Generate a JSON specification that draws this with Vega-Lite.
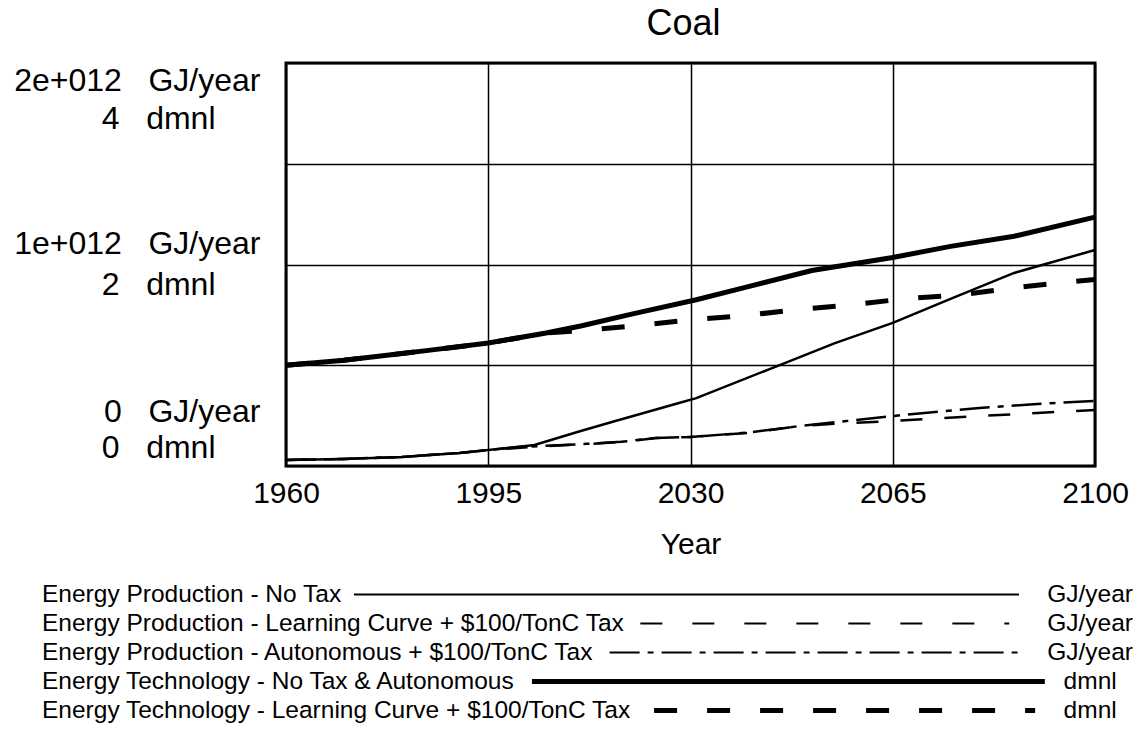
{
  "$schema": "https://vega.github.io/schema/vega-lite/v6.json",
  "background": "white",
  "padding": {"left": 12, "top": 4, "right": 0, "bottom": 0},
  "spacing": 19,
  "config": {"font": "Liberation Sans", "view": {"stroke": null}},
  "datasets": {
    "lines": [
      {"year": 1960, "series": "P1", "value": 3.0e10},
      {"year": 1970, "series": "P1", "value": 3.5e10},
      {"year": 1980, "series": "P1", "value": 4.5e10},
      {"year": 1990, "series": "P1", "value": 6.5e10},
      {"year": 1995, "series": "P1", "value": 7.9e10},
      {"year": 2003, "series": "P1", "value": 1.04e11},
      {"year": 2011, "series": "P1", "value": 1.74e11},
      {"year": 2017, "series": "P1", "value": 2.23e11},
      {"year": 2028, "series": "P1", "value": 3.13e11},
      {"year": 2031, "series": "P1", "value": 3.37e11},
      {"year": 2045, "series": "P1", "value": 4.96e11},
      {"year": 2055, "series": "P1", "value": 6.10e11},
      {"year": 2065, "series": "P1", "value": 7.10e11},
      {"year": 2075, "series": "P1", "value": 8.29e11},
      {"year": 2086, "series": "P1", "value": 9.58e11},
      {"year": 2100, "series": "P1", "value": 1.072e12},

      {"year": 1960, "series": "P2", "value": 3.0e10},
      {"year": 1970, "series": "P2", "value": 3.5e10},
      {"year": 1980, "series": "P2", "value": 4.5e10},
      {"year": 1990, "series": "P2", "value": 6.5e10},
      {"year": 1995, "series": "P2", "value": 7.9e10},
      {"year": 2000, "series": "P2", "value": 8.9e10},
      {"year": 2005, "series": "P2", "value": 9.9e10},
      {"year": 2012, "series": "P2", "value": 1.09e11},
      {"year": 2018, "series": "P2", "value": 1.19e11},
      {"year": 2024, "series": "P2", "value": 1.39e11},
      {"year": 2030, "series": "P2", "value": 1.44e11},
      {"year": 2040, "series": "P2", "value": 1.64e11},
      {"year": 2049, "series": "P2", "value": 1.99e11},
      {"year": 2057, "series": "P2", "value": 2.13e11},
      {"year": 2065, "series": "P2", "value": 2.23e11},
      {"year": 2080, "series": "P2", "value": 2.48e11},
      {"year": 2090, "series": "P2", "value": 2.63e11},
      {"year": 2100, "series": "P2", "value": 2.78e11},

      {"year": 1960, "series": "P3", "value": 3.0e10},
      {"year": 1970, "series": "P3", "value": 3.5e10},
      {"year": 1980, "series": "P3", "value": 4.5e10},
      {"year": 1990, "series": "P3", "value": 6.5e10},
      {"year": 1995, "series": "P3", "value": 7.9e10},
      {"year": 2000, "series": "P3", "value": 9.4e10},
      {"year": 2005, "series": "P3", "value": 1.0e11},
      {"year": 2012, "series": "P3", "value": 1.1e11},
      {"year": 2018, "series": "P3", "value": 1.2e11},
      {"year": 2024, "series": "P3", "value": 1.39e11},
      {"year": 2030, "series": "P3", "value": 1.44e11},
      {"year": 2040, "series": "P3", "value": 1.66e11},
      {"year": 2049, "series": "P3", "value": 1.99e11},
      {"year": 2057, "series": "P3", "value": 2.23e11},
      {"year": 2065, "series": "P3", "value": 2.48e11},
      {"year": 2080, "series": "P3", "value": 2.88e11},
      {"year": 2090, "series": "P3", "value": 3.08e11},
      {"year": 2100, "series": "P3", "value": 3.23e11},

      {"year": 1960, "series": "T1", "value": 1.00},
      {"year": 1970, "series": "T1", "value": 1.05},
      {"year": 1976, "series": "T1", "value": 1.09},
      {"year": 1985, "series": "T1", "value": 1.15},
      {"year": 1995, "series": "T1", "value": 1.22},
      {"year": 2005, "series": "T1", "value": 1.32},
      {"year": 2011, "series": "T1", "value": 1.39},
      {"year": 2020, "series": "T1", "value": 1.51},
      {"year": 2031, "series": "T1", "value": 1.65},
      {"year": 2040, "series": "T1", "value": 1.78},
      {"year": 2051, "series": "T1", "value": 1.94},
      {"year": 2065, "series": "T1", "value": 2.07},
      {"year": 2075, "series": "T1", "value": 2.18},
      {"year": 2086, "series": "T1", "value": 2.28},
      {"year": 2100, "series": "T1", "value": 2.47},

      {"year": 1960, "series": "T2", "value": 1.00},
      {"year": 1970, "series": "T2", "value": 1.05},
      {"year": 1976, "series": "T2", "value": 1.09},
      {"year": 1985, "series": "T2", "value": 1.15},
      {"year": 1995, "series": "T2", "value": 1.22},
      {"year": 2005, "series": "T2", "value": 1.32},
      {"year": 2010, "series": "T2", "value": 1.34},
      {"year": 2020, "series": "T2", "value": 1.39},
      {"year": 2030, "series": "T2", "value": 1.45},
      {"year": 2039, "series": "T2", "value": 1.49},
      {"year": 2048, "series": "T2", "value": 1.55},
      {"year": 2058, "series": "T2", "value": 1.60},
      {"year": 2067, "series": "T2", "value": 1.66},
      {"year": 2077, "series": "T2", "value": 1.70},
      {"year": 2086, "series": "T2", "value": 1.77},
      {"year": 2096, "series": "T2", "value": 1.83},
      {"year": 2100, "series": "T2", "value": 1.85}
    ],
    "legend": [
      {"series": "P1", "label": "Energy Production - No Tax", "unit": "GJ/year"},
      {"series": "P2", "label": "Energy Production - Learning Curve + $100/TonC Tax", "unit": "GJ/year"},
      {"series": "P3", "label": "Energy Production - Autonomous + $100/TonC Tax", "unit": "GJ/year"},
      {"series": "T1", "label": "Energy Technology - No Tax & Autonomous", "unit": "dmnl"},
      {"series": "T2", "label": "Energy Technology - Learning Curve + $100/TonC Tax", "unit": "dmnl"}
    ]
  },
  "vconcat": [
    {
      "width": 809,
      "height": 403,
      "title": {"text": "Coal", "fontSize": 36, "fontWeight": "normal", "color": "black", "anchor": "middle", "offset": 20, "dx": -7},
      "data": {"name": "lines"},
      "view": {"stroke": "black", "strokeWidth": 3},
      "encoding": {
        "x": {
          "field": "year", "type": "quantitative",
          "scale": {"domain": [1960, 2100], "nice": false, "zero": false},
          "axis": {
            "values": [1960, 1995, 2030, 2065, 2100], "format": "d", "title": "Year",
            "labelFontSize": 30, "titleFontSize": 30, "titleFontWeight": "normal",
            "labelColor": "black", "titleColor": "black", "labelPadding": 12, "titlePadding": 21,
            "ticks": false, "tickSize": 0, "domain": false, "labelFlush": false,
            "grid": true, "gridColor": "black", "gridWidth": 1.5, "gridOpacity": 1
          }
        }
      },
      "layer": [
        {
          "encoding": {
            "y": {
              "field": "value", "type": "quantitative",
              "scale": {"domain": [0, 2000000000000], "nice": false, "zero": true},
              "axis": {
                "orient": "left", "title": null,
                "values": [0, 500000000000, 1000000000000, 1500000000000, 2000000000000],
                "labelExpr": "datum.value == 2000000000000 ? '2e+012\u00a0\u00a0\u00a0GJ/year' : datum.value == 1000000000000 ? '1e+012\u00a0\u00a0\u00a0GJ/year' : datum.value == 0 ? '0\u00a0\u00a0\u00a0GJ/year' : ''",
                "labelFontSize": 32, "labelColor": "black", "labelAlign": "right", "labelBaseline": "middle",
                "labelPadding": 26, "labelFlush": false, "labelOverlap": false, "labelLimit": 500,
                "labelOffset": {"condition": [{"test": "datum.value == 2000000000000", "value": 17}, {"test": "datum.value == 0", "value": -55}], "value": -21},
                "ticks": false, "tickSize": 0, "domain": false,
                "grid": true, "gridColor": "black", "gridWidth": 1.5, "gridOpacity": 1
              }
            }
          },
          "layer": [
            {"transform": [{"filter": "datum.series == 'P1'"}], "mark": {"type": "line", "color": "black", "strokeWidth": 2.5}},
            {"transform": [{"filter": "datum.series == 'P2'"}], "mark": {"type": "line", "color": "black", "strokeWidth": 2.5, "strokeDash": [22, 22]}},
            {"transform": [{"filter": "datum.series == 'P3'"}], "mark": {"type": "line", "color": "black", "strokeWidth": 2.5, "strokeDash": [30, 8, 6, 8]}}
          ]
        },
        {
          "encoding": {
            "y": {
              "field": "value", "type": "quantitative",
              "scale": {"domain": [0, 4], "nice": false, "zero": true},
              "axis": {
                "orient": "left", "title": null, "values": [0, 2, 4],
                "labelExpr": "datum.value + '\u00a0\u00a0\u00a0dmnl'",
                "labelFontSize": 32, "labelColor": "black", "labelAlign": "right", "labelBaseline": "middle",
                "labelPadding": 71, "labelFlush": false, "labelOverlap": false, "labelLimit": 500,
                "labelOffset": {"condition": [{"test": "datum.value == 4", "value": 55}, {"test": "datum.value == 0", "value": -19}], "value": 20},
                "ticks": false, "tickSize": 0, "domain": false, "grid": false
              }
            }
          },
          "layer": [
            {"transform": [{"filter": "datum.series == 'T1'"}], "mark": {"type": "line", "color": "black", "strokeWidth": 5}},
            {"transform": [{"filter": "datum.series == 'T2'"}], "mark": {"type": "line", "color": "black", "strokeWidth": 5, "strokeDash": [23, 30]}}
          ]
        }
      ],
      "resolve": {"scale": {"y": "independent"}, "axis": {"y": "independent"}}
    },
    {
      "width": 809,
      "height": 145,
      "data": {"name": "legend"},
      "encoding": {
        "y": {"field": "series", "type": "nominal", "sort": null, "scale": {"type": "point", "padding": 0.5}, "axis": null}
      },
      "layer": [
        {
          "mark": {"type": "text", "align": "left", "baseline": "middle", "fontSize": 24.5, "color": "black"},
          "encoding": {
            "x": {"datum": -0.3016, "type": "quantitative", "scale": {"domain": [0, 1], "nice": false, "zero": false}, "axis": null},
            "text": {"field": "label"}
          }
        },
        {
          "mark": {"type": "text", "align": "center", "baseline": "middle", "fontSize": 24.5, "color": "black"},
          "encoding": {"x": {"datum": 0.994, "type": "quantitative"}, "text": {"field": "unit"}}
        },
        {"transform": [{"filter": "datum.series == 'P1'"}], "mark": {"type": "rule", "color": "black", "strokeWidth": 2}, "encoding": {"x": {"datum": 0.084, "type": "quantitative"}, "x2": {"datum": 0.906}}},
        {"transform": [{"filter": "datum.series == 'P2'"}], "mark": {"type": "rule", "color": "black", "strokeWidth": 2, "strokeDash": [22, 30]}, "encoding": {"x": {"datum": 0.438, "type": "quantitative"}, "x2": {"datum": 0.894}}},
        {"transform": [{"filter": "datum.series == 'P3'"}], "mark": {"type": "rule", "color": "black", "strokeWidth": 2, "strokeDash": [30, 8, 6, 8]}, "encoding": {"x": {"datum": 0.4, "type": "quantitative"}, "x2": {"datum": 0.906}}},
        {"transform": [{"filter": "datum.series == 'T1'"}], "mark": {"type": "rule", "color": "black", "strokeWidth": 5}, "encoding": {"x": {"datum": 0.304, "type": "quantitative"}, "x2": {"datum": 0.938}}},
        {"transform": [{"filter": "datum.series == 'T2'"}], "mark": {"type": "rule", "color": "black", "strokeWidth": 5, "strokeDash": [23, 30]}, "encoding": {"x": {"datum": 0.455, "type": "quantitative"}, "x2": {"datum": 0.926}}}
      ]
    }
  ]
}
